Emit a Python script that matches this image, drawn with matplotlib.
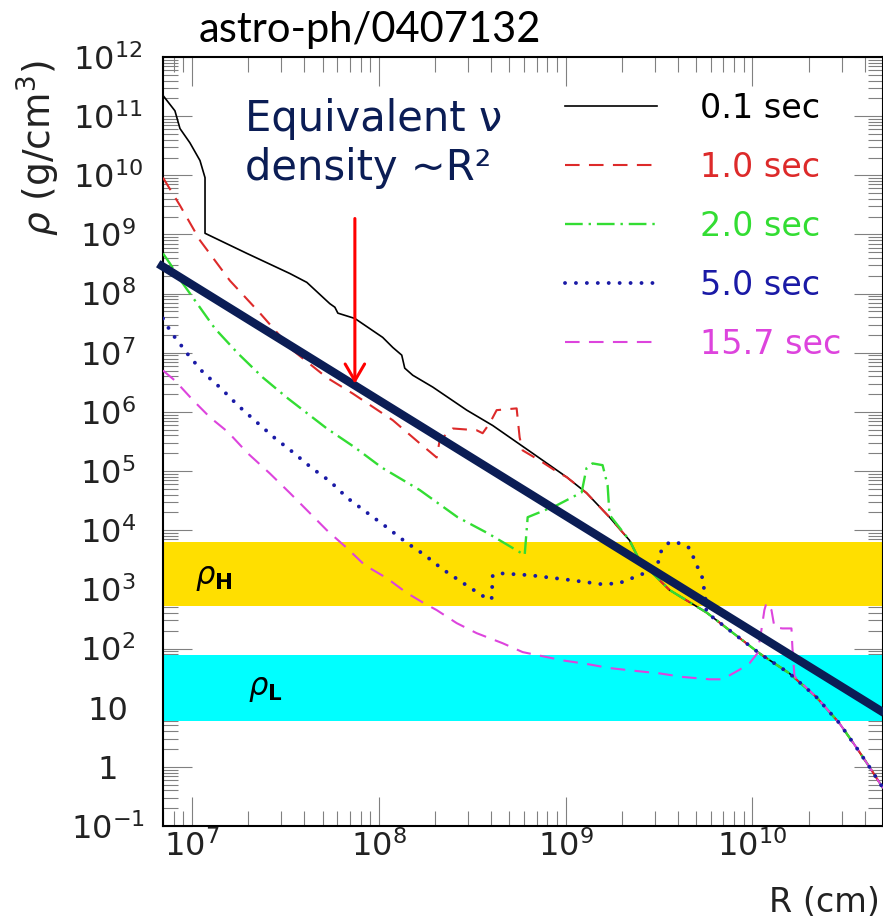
import numpy as np
import matplotlib
matplotlib.use("Agg")
import matplotlib.pyplot as plt
from matplotlib.ticker import LogLocator, NullFormatter

# values, as log10 R (cm) and log10 rho (g/cm^3)
# shared steep tail that all snapshots follow at large radius
log_r_tail = [9.556, 9.754, 9.877, 10.037, 10.198, 10.342, 10.465, 10.556, 10.626, 10.699]
log_rho_tail = [2.99, 2.61, 2.31, 1.92, 1.58, 1.18, 0.74, 0.33, 0.00, -0.36]

# 0.1 sec
log_r_01 = [6.845, 6.909, 6.936, 6.989, 7.043, 7.070, 7.070, 7.294, 7.524, 7.615,
            7.738, 7.765, 7.781, 7.872, 8.021, 8.075, 8.123, 8.139, 8.182, 8.289,
            8.471, 8.610, 8.824, 9.005, 9.112, 9.235, 9.342, 9.396]
log_rho_01 = [11.35, 11.09, 10.79, 10.55, 10.25, 9.96, 9.02, 8.68, 8.34, 8.19,
              7.83, 7.77, 7.67, 7.58, 7.26, 7.09, 6.96, 6.74, 6.62, 6.42,
              6.03, 5.77, 5.30, 4.90, 4.63, 4.22, 3.83, 3.49]

# 1.0 sec
log_r_10 = [6.845, 6.936, 7.043, 7.203, 7.364, 7.540, 7.722, 7.861, 8.075, 8.219,
            8.310, 8.326, 8.396, 8.524, 8.556, 8.594, 8.631, 8.738, 8.754, 8.770,
            8.861, 8.968, 9.005, 9.112, 9.235, 9.342, 9.396]
log_rho_10 = [9.96, 9.49, 8.90, 8.22, 7.67, 7.04, 6.58, 6.31, 5.86, 5.47,
              5.23, 5.52, 5.72, 5.69, 5.64, 5.81, 6.03, 6.06, 5.57, 5.35,
              5.18, 4.96, 4.90, 4.63, 4.22, 3.83, 3.49]

# 2.0 sec
log_r_20 = [6.845, 6.882, 6.947, 7.123, 7.246, 7.380, 7.513, 7.722, 7.872, 8.016,
            8.219, 8.422, 8.583, 8.781, 8.797, 8.952, 9.086, 9.112, 9.144, 9.198,
            9.225, 9.235, 9.342, 9.396]
log_rho_20 = [8.68, 8.51, 8.19, 7.41, 6.99, 6.58, 6.23, 5.72, 5.40, 5.06,
              4.68, 4.22, 3.95, 3.58, 4.22, 4.42, 4.64, 5.05, 5.13, 5.10,
              4.76, 4.26, 3.83, 3.49]

# 5.0 sec
log_r_50 = [6.845, 6.866, 6.904, 6.941, 6.979, 7.059, 7.155, 7.246, 7.342, 7.439,
            7.540, 7.642, 7.738, 7.834, 7.936, 8.043, 8.144, 8.246, 8.342, 8.455,
            8.556, 8.604, 8.610, 8.658, 8.807, 8.995, 9.187, 9.283, 9.396, 9.487,
            9.513, 9.556, 9.610, 9.663, 9.706, 9.733, 9.749]
log_rho_50 = [7.58, 7.46, 7.28, 7.13, 6.97, 6.67, 6.40, 6.11, 5.84, 5.57,
              5.32, 5.05, 4.83, 4.54, 4.30, 4.05, 3.80, 3.58, 3.34, 3.10,
              2.89, 2.83, 3.24, 3.27, 3.24, 3.17, 3.09, 3.10, 3.24, 3.36,
              3.66, 3.80, 3.78, 3.70, 3.38, 3.19, 2.83]

# 15.7 sec
log_r_157 = [6.845, 6.909, 7.005, 7.096, 7.193, 7.299, 7.417, 7.524, 7.631, 7.722,
             7.829, 7.925, 8.043, 8.150, 8.235, 8.310, 8.417, 8.524, 8.663, 8.770,
             8.877, 8.984, 9.112, 9.235, 9.380, 9.503, 9.626, 9.770, 9.840, 9.930,
             9.984, 10.027, 10.048, 10.064, 10.075, 10.102, 10.118, 10.160, 10.209,
             10.214, 10.225]
log_rho_157 = [6.70, 6.53, 6.20, 5.91, 5.66, 5.30, 4.96, 4.63, 4.29, 4.00,
               3.70, 3.41, 3.19, 2.94, 2.78, 2.65, 2.43, 2.26, 2.09, 1.94,
               1.87, 1.80, 1.74, 1.67, 1.62, 1.58, 1.52, 1.48, 1.48, 1.64,
               1.75, 1.92, 2.31, 2.65, 2.77, 2.65, 2.36, 2.34, 2.34,
               2.02, 1.53]

labels = ["0.1 sec", "1.0 sec", "2.0 sec", "5.0 sec", "15.7 sec"]

# MSW resonance bands (g/cm^3)
band_h = [520, 6300]
band_l = [5.9, 77]

# "equivalent neutrino density ~R^-2" line and arrow
line_r = [6.6e6, 5.4e10]
line_rho = [3.2e8, 7.2]
arrow_r = 7.45e7
arrow_rho = [1.86e9, 3.0e6]

xticks = [1e7, 1e8, 1e9, 1e10]
xtick_labels = [r"$10^{7}$", r"$10^{8}$", r"$10^{9}$", r"$10^{10}$"]
yticks = [10.0 ** k for k in range(-1, 13)]
ytick_labels = [r"$10^{-1}$", "1", "10"] + [r"$10^{%d}$" % k for k in range(2, 13)]

plt.rcParams["font.family"] = "DejaVu Sans"

fig = plt.figure(figsize=(8.83, 9.24), dpi=100)
ax = fig.add_axes([163 / 883, 98 / 924, 720 / 883, 769 / 924])
ax.set_xscale("log")
ax.set_yscale("log")
ax.set_xlim(7e6, 5e10)
ax.set_ylim(1e-1, 1e12)

ax.axhspan(band_h[0], band_h[1], color="#ffdf00", lw=0, zorder=1.8)
ax.axhspan(band_l[0], band_l[1], color="#00ffff", lw=0, zorder=1.8)

tail_r = np.array(log_r_tail)
tail_rho = np.array(log_rho_tail)

def full(r, rho, start):
    return (10 ** np.concatenate([r, tail_r[start:]]),
            10 ** np.concatenate([rho, tail_rho[start:]]))

navy = "#0b1d55"
handles = []
x, y = full(log_r_01, log_rho_01, 0)
handles += ax.plot(x, y, color="black", lw=1.2, zorder=3)
x, y = full(log_r_10, log_rho_10, 0)
handles += ax.plot(x, y, color="#dd2a2a", lw=1.5, dashes=(7, 4.5), zorder=3)
x, y = full(log_r_20, log_rho_20, 0)
handles += ax.plot(x, y, color="#33dd33", lw=1.7, dashes=(7.5, 2.5, 1, 2.5), zorder=3)
x, y = full(log_r_157, log_rho_157, 5)
h_157 = ax.plot(x, y, color="#dd44dd", lw=1.5, dashes=(7, 4.5), zorder=3)
x, y = full(log_r_50, log_rho_50, 1)
handles += ax.plot(x, y, color="#1a1aa6", lw=2.8, dashes=(0.01, 2.8),
                   dash_capstyle="round", zorder=3)
handles += h_157

ax.text(1.04e7, 1.55e3, r"$\rho_{\mathbf{H}}$", fontsize=22, va="center", zorder=4)
ax.text(1.99e7, 20, r"$\rho_{\mathbf{L}}$", fontsize=22, va="center", zorder=4)

ax.plot(line_r, line_rho, color=navy, lw=6, solid_capstyle="butt",
        clip_on=False, zorder=6)
ax.annotate("", xy=(arrow_r, arrow_rho[1]), xytext=(arrow_r, arrow_rho[0]),
            arrowprops=dict(arrowstyle="->,head_length=0.6,head_width=0.35",
                            color="red", lw=2.2, mutation_scale=20,
                            shrinkA=0, shrinkB=0), zorder=7)

# axes in ROOT style: ticks inside on all four sides
ax.set_xticks(xticks)
ax.set_xticklabels(xtick_labels)
ax.set_yticks(yticks)
ax.set_yticklabels(ytick_labels, ha="center")
ax.xaxis.set_minor_locator(LogLocator(base=10, subs=np.arange(2, 10), numticks=50))
ax.yaxis.set_minor_locator(LogLocator(base=10, subs=np.arange(2, 10), numticks=50))
ax.xaxis.set_minor_formatter(NullFormatter())
ax.yaxis.set_minor_formatter(NullFormatter())
ax.tick_params(which="both", direction="in", top=True, right=True,
               color="#808080", width=0.8, labelcolor="#222222")
ax.tick_params(which="major", length=21, labelsize=23)
ax.tick_params(which="minor", length=11)
ax.tick_params(axis="y", which="major", pad=39.6)
ax.tick_params(axis="x", which="major", pad=3)
for s in ax.spines.values():
    s.set_linewidth(1.5)

ax.legend(handles, labels, loc="upper left", bbox_to_anchor=(565 / 883, 1 - 92 / 924),
          bbox_transform=fig.transFigure, frameon=False, fontsize=24,
          handlelength=2.75, handletextpad=1.3, labelspacing=0.78,
          borderpad=0, borderaxespad=0, labelcolor="linecolor")

fig.text(245 / 883, 1 - 98 / 924, "Equivalent \u03bd\ndensity ~R\u00b2",
         ha="left", va="top", fontsize=30, color=navy, linespacing=1.2)
fig.text(370 / 883, 1 - 30 / 924, "astro-ph/0407132", ha="center", va="center",
         fontsize=30, family="Lato")
fig.text(38 / 883, 1 - 148 / 924, r"$\rho$ (g/cm$^3$)", rotation=90,
         ha="center", va="center", fontsize=27, color="#222222")
fig.text(880 / 883, 1 - 903 / 924, "R (cm)", ha="right", va="center",
         fontsize=24, color="#222222")

fig.savefig("out.png", dpi=100)
